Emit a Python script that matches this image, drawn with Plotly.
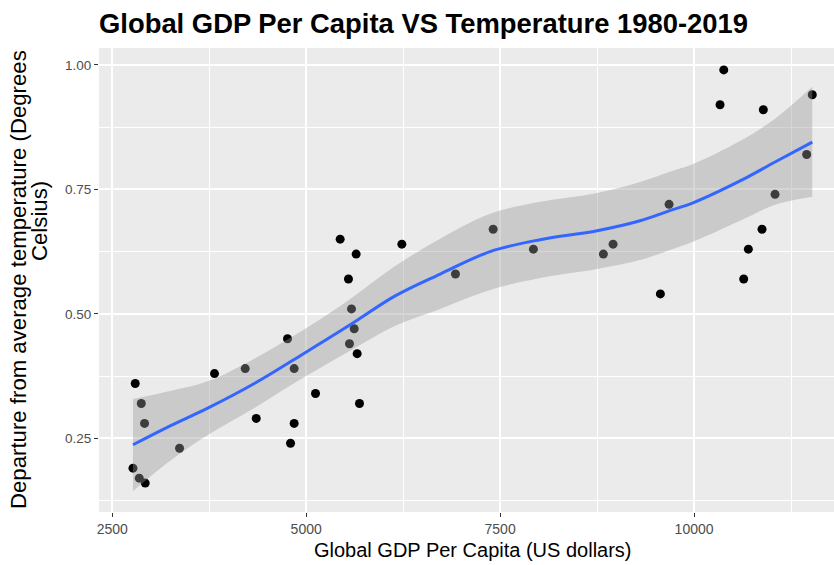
import plotly.graph_objects as go

# Observations (Global GDP per capita in US$, temperature anomaly in deg C)
gdp = [2796, 2874, 2916, 2767, 2848, 2925, 3367, 3818, 4214, 4356,
       4759, 4845, 5120, 4845, 4798, 5584, 5619, 5558, 5657, 5687,
       5545, 5438, 5644, 6233, 6924, 7410, 7929, 8831, 8956, 9678,
       10383, 10335, 10893, 11524, 11452, 11044, 10876, 10700, 10640, 9566]
temp = [0.36, 0.32, 0.28, 0.19, 0.17, 0.16, 0.23, 0.38, 0.39, 0.29,
        0.45, 0.39, 0.34, 0.28, 0.24, 0.51, 0.47, 0.44, 0.42, 0.32,
        0.57, 0.65, 0.62, 0.64, 0.58, 0.67, 0.63, 0.62, 0.64, 0.72,
        0.99, 0.92, 0.91, 0.94, 0.82, 0.74, 0.67, 0.63, 0.57, 0.54]

# Smoothed trend with its confidence band
fit_x = [2767, 3247, 3737, 4343, 4987, 5567, 6147, 6727, 7371, 8015,
         8750, 9304, 9678, 9987, 10593, 11044, 11524]
fit_y = [0.237, 0.275, 0.311, 0.361, 0.422, 0.478, 0.536, 0.580, 0.625, 0.649,
         0.667, 0.687, 0.707, 0.723, 0.767, 0.805, 0.845]
fit_upper = [0.329, 0.345, 0.365, 0.411, 0.470, 0.530, 0.596, 0.651, 0.701, 0.725,
             0.743, 0.765, 0.785, 0.801, 0.847, 0.892, 0.956]
fit_lower = [0.144, 0.205, 0.257, 0.312, 0.374, 0.426, 0.476, 0.510, 0.548, 0.572,
             0.590, 0.608, 0.628, 0.645, 0.687, 0.719, 0.735]

x_ticks = [2500, 5000, 7500, 10000]
y_ticks = [0.25, 0.50, 0.75, 1.00]

FONT = "Liberation Sans"

fig = go.Figure()
fig.add_trace(go.Scatter(x=gdp, y=temp, mode="markers",
                         marker=dict(color="black", size=9, line=dict(width=0)),
                         hoverinfo="x+y", showlegend=False))
fig.add_trace(go.Scatter(x=fit_x, y=fit_lower, mode="lines",
                         line=dict(width=0, shape="spline", color="rgba(0,0,0,0)"),
                         showlegend=False, hoverinfo="skip"))
fig.add_trace(go.Scatter(x=fit_x, y=fit_upper, mode="lines",
                         line=dict(width=0, shape="spline", color="rgba(0,0,0,0)"),
                         fill="tonexty", fillcolor="rgba(153,153,153,0.4)",
                         showlegend=False, hoverinfo="skip"))
fig.add_trace(go.Scatter(x=fit_x, y=fit_y, mode="lines",
                         line=dict(color="#3366FF", width=3, shape="spline"),
                         showlegend=False))

axis_common = dict(
    showgrid=True, gridcolor="white", gridwidth=1.6, zeroline=False,
    showline=False, ticks="outside", ticklen=4, tickwidth=1, tickcolor="#333333",
)

fig.update_layout(
    width=834, height=565,
    margin=dict(l=99, r=0, t=48, b=53),
    paper_bgcolor="white", plot_bgcolor="#EBEBEB",
    font=dict(family=FONT, color="black"),
    title=dict(text="Global GDP Per Capita VS Temperature 1980-2019",
               font=dict(family=FONT, size=27.4, color="black", weight="bold"),
               xref="paper", x=0, xanchor="left",
               yref="container", y=1 - 23 / 565, yanchor="middle"),
    xaxis=dict(range=[2329, 11804], tickvals=x_ticks,
               ticktext=[str(v) for v in x_ticks],
               tickfont=dict(family=FONT, size=14, color="#4D4D4D"),
               minor=dict(tick0=1250, dtick=1250, showgrid=True,
                          gridcolor="white", gridwidth=0.7, ticks=""),
               **axis_common),
    yaxis=dict(range=[0.102, 1.034], tickvals=y_ticks,
               ticktext=[f"{v:.2f}" for v in y_ticks],
               tickfont=dict(family=FONT, size=13.5, color="#4D4D4D"),
               minor=dict(tick0=0.125, dtick=0.125, showgrid=True,
                          gridcolor="white", gridwidth=0.7, ticks=""),
               **axis_common),
    annotations=[
        dict(text="Global GDP Per Capita (US dollars)", xref="paper", yref="paper",
             x=0.5, y=0, yshift=-38, xshift=6, xanchor="center", yanchor="middle",
             showarrow=False, font=dict(family=FONT, size=20, color="black")),
        dict(text="Departure from average temperature (Degrees", xref="paper", yref="paper",
             x=0, y=0.5, xshift=-81, xanchor="center", yanchor="middle", textangle=-90,
             showarrow=False, font=dict(family=FONT, size=22.2, color="black")),
        dict(text="Celsius)", xref="paper", yref="paper",
             x=0, y=(512 - 221) / 464, xshift=-59, xanchor="center", yanchor="middle",
             textangle=-90, showarrow=False,
             font=dict(family=FONT, size=22.2, color="black")),
    ],
)

fig.write_html("out.html")
